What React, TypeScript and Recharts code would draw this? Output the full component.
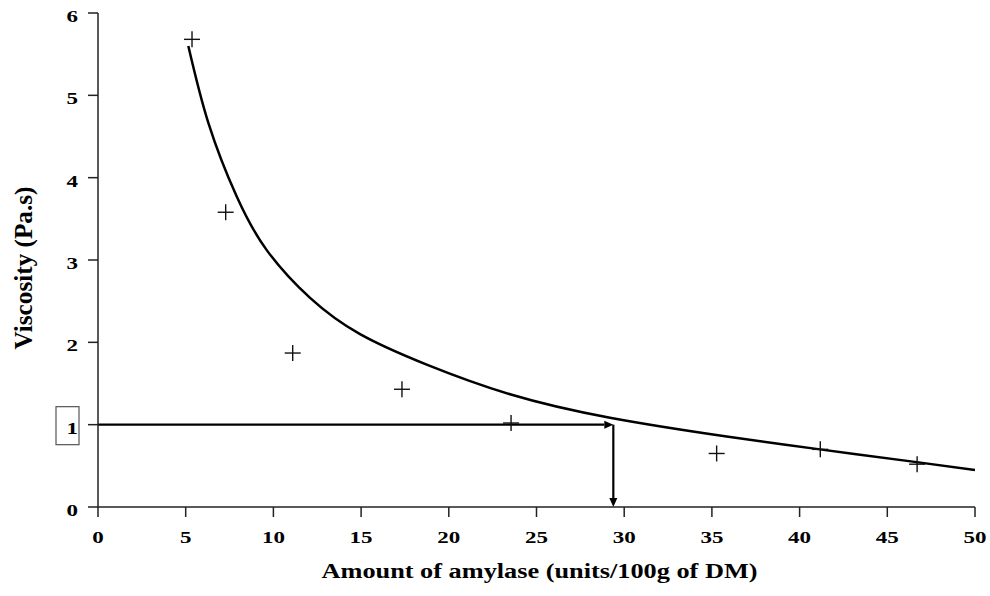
import React from "react";
import {
  ComposedChart,
  Line,
  Scatter,
  XAxis,
  YAxis,
  Label,
  ReferenceLine,
} from "recharts";

// measured points (+)
const amylaseMeasured = [5.36, 7.28, 11.1, 17.33, 23.55, 35.27, 41.18, 46.7];
const viscosityMeasured = [5.68, 3.58, 1.87, 1.43, 1.02, 0.65, 0.7, 0.52];

// fitted curve
const amylaseFit = [5.15, 6.3, 7.91, 9.62, 12.09, 14.94, 18.74, 23.49, 29.19, 35.84, 41.16, 46.67, 50];
const viscosityFit = [5.6, 4.66, 3.77, 3.12, 2.54, 2.1, 1.73, 1.37, 1.085, 0.857, 0.7, 0.545, 0.45];

const xTicks = [0, 5, 10, 15, 20, 25, 30, 35, 40, 45, 50];
const yTicks = [0, 1, 2, 3, 4, 5, 6];

// target viscosity and the amylase amount it needs
const targetViscosity = 1;
const requiredAmylase = 29.38;

const measured = amylaseMeasured.map((x, i) => ({ x, y: viscosityMeasured[i] }));
const fit = amylaseFit.map((x, i) => ({ x, y: viscosityFit[i] }));

const font = "'Liberation Serif', 'Times New Roman', serif";

const Plus = (props: any) => {
  const { cx, cy } = props;
  const h = 8;
  return (
    <g stroke="#111" strokeWidth={1.4}>
      <line x1={cx - h} y1={cy} x2={cx + h} y2={cy} />
      <line x1={cx} y1={cy - h} x2={cx} y2={cy + h} />
    </g>
  );
};

const Arrow = (props: any) => {
  const { x1, y1, x2, y2 } = props;
  const ang = Math.atan2(y2 - y1, x2 - x1);
  const len = 9;
  const half = 4;
  const bx = x2 - len * Math.cos(ang);
  const by = y2 - len * Math.sin(ang);
  const px = -Math.sin(ang) * half;
  const py = Math.cos(ang) * half;
  return (
    <g>
      <line x1={x1} y1={y1} x2={bx} y2={by} stroke="#000" strokeWidth={2.2} />
      <polygon points={`${x2},${y2} ${bx + px},${by + py} ${bx - px},${by - py}`} fill="#000" />
    </g>
  );
};

// the scan is stretched sideways, so digits get a wider textLength
const digitWidth = 11.5;

const YTick = (props: any) => {
  const { x, y, payload } = props;
  const s = String(payload.value);
  return (
    <g>
      {payload.value === targetViscosity && (
        <rect x={x - 22} y={y - 18} width={23} height={38} fill="none" stroke="#555" strokeWidth={1.2} />
      )}
      <text
        x={x}
        y={y + 9}
        textAnchor="end"
        textLength={s.length * digitWidth}
        lengthAdjust="spacingAndGlyphs"
        fontFamily={font}
        fontWeight="bold"
        fontSize={17}
        fill="#000"
      >
        {s}
      </text>
    </g>
  );
};

const XTick = (props: any) => {
  const { x, y, payload } = props;
  const s = String(payload.value);
  return (
    <text
      x={x}
      y={y + 12}
      textAnchor="middle"
      textLength={s.length * digitWidth}
      lengthAdjust="spacingAndGlyphs"
      fontFamily={font}
      fontWeight="bold"
      fontSize={17}
      fill="#000"
    >
      {s}
    </text>
  );
};

const YLabel = (props: any) => {
  const vb = props.viewBox || { x: 0, y: 13, height: 494 };
  const cx = vb.x + 23;
  const cy = vb.y + vb.height / 2 + 8;
  return (
    <text
      x={cx}
      y={cy}
      transform={`rotate(-90 ${cx} ${cy})`}
      textAnchor="middle"
      dominantBaseline="central"
      textLength={163}
      lengthAdjust="spacingAndGlyphs"
      fontFamily={font}
      fontWeight="bold"
      fontSize={26}
      fill="#000"
    >
      Viscosity (Pa.s)
    </text>
  );
};

const XLabel = (props: any) => {
  const vb = props.viewBox || { x: 98, y: 507, width: 877, height: 89 };
  const cx = vb.x + vb.width / 2 + 3;
  const by = vb.y + 71;
  return (
    <text
      x={cx}
      y={by}
      textAnchor="middle"
      textLength={436}
      lengthAdjust="spacingAndGlyphs"
      fontFamily={font}
      fontWeight="bold"
      fontSize={20}
      fill="#000"
    >
      Amount of amylase (units/100g of DM)
    </text>
  );
};

export default function App() {
  return (
    <div style={{ position: "absolute", left: 0, top: 0, background: "#fff" }}>
      <ComposedChart width={990} height={596} margin={{ top: 13, right: 15, bottom: 0, left: 0 }}>
        <XAxis
          type="number"
          dataKey="x"
          domain={[0, 50]}
          ticks={xTicks}
          allowDataOverflow
          height={89}
          tickSize={10}
          tickMargin={14}
          axisLine={{ stroke: "#222", strokeWidth: 1.5 }}
          tickLine={{ stroke: "#222", strokeWidth: 1.5 }}
          tick={<XTick />}
        >
          <Label content={<XLabel />} />
        </XAxis>
        <YAxis
          type="number"
          dataKey="y"
          domain={[0, 6]}
          ticks={yTicks}
          allowDataOverflow
          width={98}
          tickSize={10}
          tickMargin={10}
          axisLine={{ stroke: "#222", strokeWidth: 1.5 }}
          tickLine={{ stroke: "#222", strokeWidth: 1.5 }}
          tick={<YTick />}
        >
          <Label content={<YLabel />} />
        </YAxis>
        <Line
          data={fit}
          dataKey="y"
          type="natural"
          stroke="#000"
          strokeWidth={2.5}
          dot={false}
          activeDot={false}
          isAnimationActive={false}
        />
        <Scatter data={measured} dataKey="y" shape={<Plus />} isAnimationActive={false} />
        <ReferenceLine
          segment={[
            { x: 0, y: targetViscosity },
            { x: requiredAmylase, y: targetViscosity },
          ]}
          shape={<Arrow />}
        />
        <ReferenceLine
          segment={[
            { x: requiredAmylase, y: targetViscosity },
            { x: requiredAmylase, y: 0 },
          ]}
          shape={<Arrow />}
        />
      </ComposedChart>
    </div>
  );
}
